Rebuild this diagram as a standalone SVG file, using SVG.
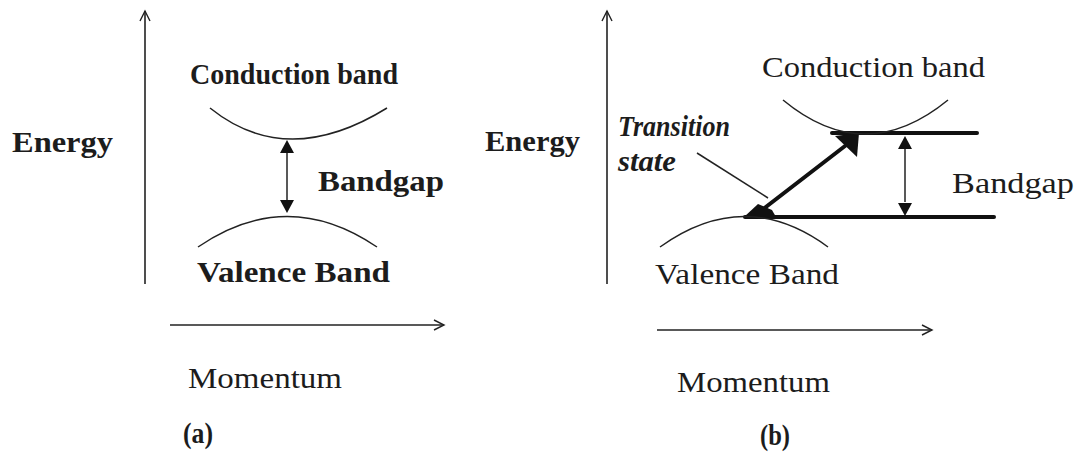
<svg xmlns="http://www.w3.org/2000/svg" width="1074" height="453" viewBox="0 0 1074 453">
<defs>
<style>
.t{font-family:"Liberation Serif","Times New Roman",serif;fill:#1c1c1c;font-size:30px}
.b{font-weight:bold}
.i{font-style:italic;font-weight:bold}
.ax{stroke:#222;stroke-width:1.6;fill:none}
.crv{stroke:#222;stroke-width:1.5;fill:none}
.thin{stroke:#222;stroke-width:1.5;fill:none}
.thick{stroke:#111;stroke-width:4;fill:none;stroke-linecap:round}
</style>
<marker id="open" markerWidth="14" markerHeight="14" refX="11" refY="6" orient="auto" markerUnits="userSpaceOnUse">
<path d="M1,1 L11,6 L1,11" fill="none" stroke="#222" stroke-width="1.4"/>
</marker>
</defs>
<rect width="1074" height="453" fill="#fff"/>

<g id="connectors">
<line class="ax" x1="145" y1="284" x2="145" y2="11" marker-end="url(#open)"/>
<line class="ax" x1="170" y1="325" x2="444" y2="325" marker-end="url(#open)"/>
<line class="thin" x1="287" y1="200" x2="287" y2="152"/>
<path d="M280,153 L287,140 L294,153 Z" fill="#111"/>
<path d="M280,200 L287,213 L294,200 Z" fill="#111"/>
<line class="ax" x1="607" y1="284" x2="607" y2="11" marker-end="url(#open)"/>
<line class="ax" x1="657" y1="330" x2="932" y2="330" marker-end="url(#open)"/>
<line class="thick" x1="832" y1="133" x2="977" y2="133"/>
<line class="thick" x1="745" y1="217" x2="994" y2="217"/>
<line class="thick" x1="762" y1="210" x2="845" y2="146"/>
<path d="M835,136 L859,133 L857,157 Z" fill="#111"/>
<path d="M744,217 L758,204 L772,210 L776,217 Z" fill="#111"/>
<line class="thin" x1="905" y1="202" x2="905" y2="148"/>
<path d="M898,149 L905,136 L912,149 Z" fill="#111"/>
<path d="M898,203 L905,216 L912,203 Z" fill="#111"/>
<line class="thin" x1="697" y1="153" x2="768" y2="198"/>
</g>

<g id="conduction-a">
<path class="crv" d="M210,108 Q287,170 387,108"/>
<text class="t b" x="190" y="84" textLength="208" lengthAdjust="spacingAndGlyphs">Conduction band</text>
</g>
<g id="valence-a">
<path class="crv" d="M198,247 Q287,186 377,247"/>
<text class="t b" x="197" y="282" textLength="193" lengthAdjust="spacingAndGlyphs">Valence Band</text>
</g>
<g id="bandgap-a">
<text class="t b" x="318" y="191" textLength="126" lengthAdjust="spacingAndGlyphs">Bandgap</text>
</g>
<g id="energy-a">
<text class="t b" x="12" y="152" textLength="101" lengthAdjust="spacingAndGlyphs">Energy</text>
</g>
<g id="momentum-a">
<text class="t" x="188" y="388" textLength="154" lengthAdjust="spacingAndGlyphs">Momentum</text>
</g>
<g id="label-a">
<text class="t b" x="183" y="443" textLength="30" lengthAdjust="spacingAndGlyphs">(a)</text>
</g>

<g id="conduction-b">
<path class="crv" d="M783,100 Q865,168 948,100"/>
<text class="t" x="762" y="77" textLength="223" lengthAdjust="spacingAndGlyphs">Conduction band</text>
</g>
<g id="valence-b">
<path class="crv" d="M660,247 Q745,186 828,247"/>
<text class="t" x="655" y="284" textLength="184" lengthAdjust="spacingAndGlyphs">Valence Band</text>
</g>
<g id="transition-state">
<text class="t i" x="618" y="136" textLength="112" lengthAdjust="spacingAndGlyphs">Transition</text>
<text class="t i" x="618" y="171" textLength="58" lengthAdjust="spacingAndGlyphs">state</text>
</g>
<g id="bandgap-b">
<text class="t" x="952" y="193" textLength="122" lengthAdjust="spacingAndGlyphs">Bandgap</text>
</g>
<g id="energy-b">
<text class="t b" x="485" y="151" textLength="95" lengthAdjust="spacingAndGlyphs">Energy</text>
</g>
<g id="momentum-b">
<text class="t" x="677" y="392" textLength="153" lengthAdjust="spacingAndGlyphs">Momentum</text>
</g>
<g id="label-b">
<text class="t b" x="760" y="445" textLength="30" lengthAdjust="spacingAndGlyphs">(b)</text>
</g>
</svg>
